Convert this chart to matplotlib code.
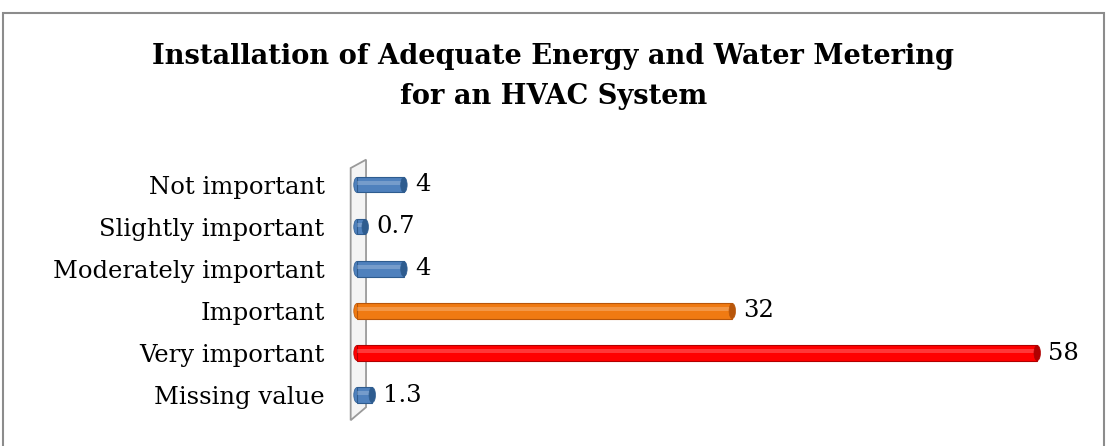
import matplotlib.pyplot as plt
from matplotlib.patches import Polygon, Ellipse, Rectangle

categories = ['Missing value', 'Very important', 'Important',
              'Moderately important', 'Slightly important', 'Not important']
values = [1.3, 58, 32, 4, 0.7, 4]
value_labels = ['1.3', '58', '32', '4', '0.7', '4']
colors = ['#4F81BD', '#FF0000', '#F07A12', '#4F81BD', '#4F81BD', '#4F81BD']
edges = ['#2E5C8F', '#B00000', '#B8560A', '#2E5C8F', '#2E5C8F', '#2E5C8F']

plt.rcParams['font.family'] = ['DejaVu Serif']

fig = plt.figure(figsize=(11.07, 4.46), dpi=100)
# chart border
fig.patches.append(Rectangle((3/1107, -0.05), 1101/1107, (446-13)/446 + 0.05,
                             transform=fig.transFigure, fill=False,
                             edgecolor='#8C8C8C', linewidth=1.5))

fig.text(0.5, 1 - 57/446, 'Installation of Adequate Energy and Water Metering',
         ha='center', va='center', fontsize=19.6, fontweight='bold')
fig.text(0.5, 1 - 97/446, 'for an HVAC System',
         ha='center', va='center', fontsize=19.6, fontweight='bold')

ax = fig.add_axes([340/1107, 6/446, 750/1107, 290/446])
ax.set_xlim(-1.45, 62.5)
ax.set_ylim(-1.07, 5.83)
for s in ax.spines.values():
    s.set_visible(False)
ax.set_xticks([])

# back wall (3D look)
wall = Polygon([(-0.54, 5.4), (0.77, 5.6), (0.77, -0.29), (-0.54, -0.6)],
               closed=True, facecolor='#F4F4F4', edgecolor='#9A9A9A',
               linewidth=1.3, zorder=1)
ax.add_patch(wall)

h = 0.36
ypos = list(range(len(categories)))
ax.barh(ypos, values, height=h, color=colors, edgecolor=edges,
        linewidth=0.8, zorder=3)
# light stripe on the upper half for a cylinder look
ax.barh([y + h * 0.12 for y in ypos], values, height=h * 0.3,
        color='white', alpha=0.22, linewidth=0, zorder=3.5)
for y, v, c, e in zip(ypos, values, colors, edges):
    ax.add_patch(Ellipse((v, y), 0.55, h, facecolor=e, edgecolor=e,
                         linewidth=0.5, zorder=4))
    ax.add_patch(Ellipse((0, y), 0.55, h, facecolor=c, edgecolor=e,
                         linewidth=0.5, zorder=2))

for y, v, t in zip(ypos, values, value_labels):
    ax.text(v + 0.95, y, t, ha='left', va='center', fontsize=17.5)

ax.set_yticks(ypos)
ax.set_yticklabels(categories, fontsize=17.5)
ax.tick_params(axis='y', length=0, pad=11)

fig.savefig('out.png', dpi=100)
